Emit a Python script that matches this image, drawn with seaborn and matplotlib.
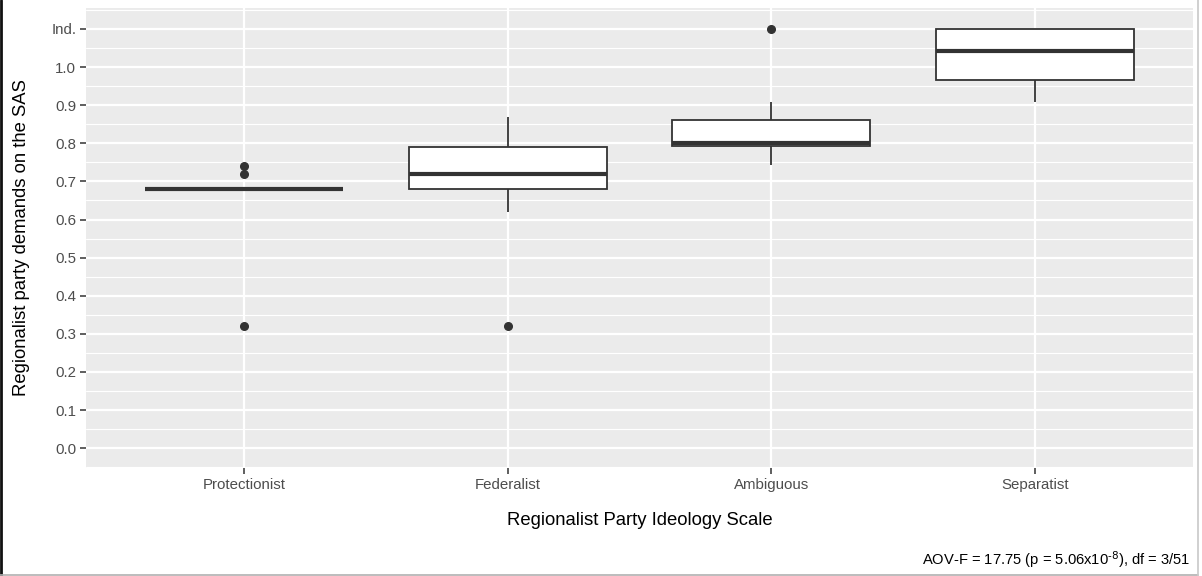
import numpy as np
import pandas as pd
import matplotlib
matplotlib.use("Agg")
import matplotlib.pyplot as plt
from matplotlib.lines import Line2D
import seaborn as sns

# ---- data ----
categories = ["Protectionist", "Federalist", "Ambiguous", "Separatist"]
protectionist = [0.32, 0.68, 0.68, 0.68, 0.68, 0.68, 0.68, 0.68, 0.68, 0.68, 0.68, 0.72, 0.74]
federalist = [0.32, 0.62, 0.65, 0.68, 0.70, 0.71, 0.72, 0.74, 0.77, 0.79, 0.82, 0.85, 0.87]
ambiguous = [0.742, 0.77, 0.79, 0.794, 0.795, 0.80, 0.80, 0.82, 0.84, 0.86, 0.88, 0.909, 1.10]
separatist = [0.909, 0.93, 0.966, 1.00, 1.042, 1.08, 1.10, 1.10, 1.10]
y_ticks = [0.0, 0.1, 0.2, 0.3, 0.4, 0.5, 0.6, 0.7, 0.8, 0.9, 1.0, 1.1]
y_ticklabels = ["0.0", "0.1", "0.2", "0.3", "0.4", "0.5", "0.6", "0.7", "0.8", "0.9", "1.0", "Ind."]
x_title = "Regionalist Party Ideology Scale"
y_title = "Regionalist party demands on the SAS"
caption = r"AOV-F = 17.75 (p = 5.06x10$^{\text{-8}}$), df = 3/51"

groups = [protectionist, federalist, ambiguous, separatist]
df = pd.DataFrame({
    "ideology": np.concatenate([[c] * len(g) for c, g in zip(categories, groups)]),
    "value": np.concatenate(groups),
})

sns.set_theme(style="darkgrid")
plt.rcParams["font.family"] = ["Liberation Sans", "DejaVu Sans"]
plt.rcParams["mathtext.default"] = "regular"

W, H = 1202, 576
fig = plt.figure(figsize=(W / 100, H / 100), dpi=100)
fig.patch.set_facecolor("white")
ax = fig.add_axes([86 / W, 1 - 468 / H, (1193 - 86) / W, (468 - 8) / H])
ax.set_facecolor("#EBEBEB")

sns.boxplot(
    data=df, x="ideology", y="value", order=categories, ax=ax,
    width=0.75, color="white", linecolor="#333333", linewidth=1.3,
    showcaps=False, fliersize=5.5, saturation=1,
    flierprops=dict(marker="o", markerfacecolor="#333333", markeredgecolor="#333333", zorder=5),
    medianprops=dict(linewidth=3.0, color="#333333", solid_capstyle="butt", zorder=6),
    boxprops=dict(zorder=3), whiskerprops=dict(zorder=3),
)

ax.set_xlim(-0.6, 3.6)
ax.set_ylim(-0.052, 1.155)
ax.set_yticks(y_ticks)
ax.set_yticklabels(y_ticklabels)
ax.set_yticks(np.arange(-0.05, 1.16, 0.1), minor=True)

ax.grid(which="major", axis="both", color="white", linewidth=1.6)
ax.grid(which="minor", axis="y", color="white", linewidth=0.8)
ax.set_axisbelow(True)
for s in ax.spines.values():
    s.set_visible(False)

ax.tick_params(axis="both", which="major", length=4.5, width=1.1, color="#333333",
               labelcolor="#4D4D4D", labelsize=10.8, pad=2.5, bottom=True, left=True)
ax.tick_params(axis="both", which="minor", length=0, bottom=False, left=False)
ax.tick_params(axis="x", pad=3)

ax.set_xlabel(x_title, fontsize=13.3, color="black", labelpad=14)
ax.set_ylabel(y_title, fontsize=13.3, color="black", labelpad=15)

fig.text(1190 / W, 1 - 559 / H, caption, ha="right", va="center", fontsize=10.6, color="black")

# figure border as in the screenshot
fig.add_artist(Line2D([1 / W, 1 / W], [0, 1], color="#111111", linewidth=2, transform=fig.transFigure))
fig.add_artist(Line2D([0, 1198 / W], [1.5 / H, 1.5 / H], color="#B0B0B0", linewidth=1.2, transform=fig.transFigure))
fig.add_artist(Line2D([1198 / W, 1198 / W], [0, 1], color="#C8C8C8", linewidth=1.2, transform=fig.transFigure))

fig.savefig("out.png", dpi=100, facecolor="white")
